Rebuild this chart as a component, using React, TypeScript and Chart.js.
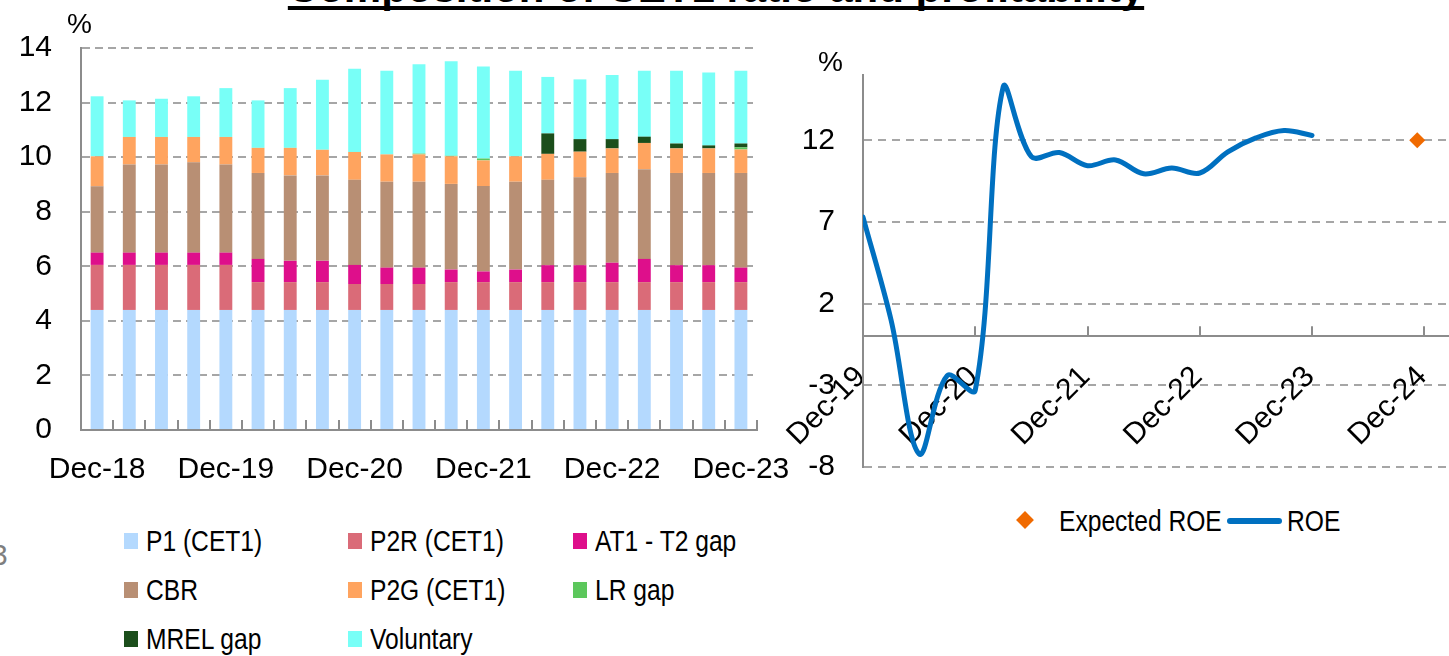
import React, { useEffect, useRef } from "react";
import { Chart, registerables } from "chart.js";

Chart.register(...registerables);

// ---------- Data: left chart (CET1 composition, %) ----------
const QUARTERS = [
  "Dec-18", "Mar-19", "Jun-19", "Sep-19", "Dec-19", "Mar-20", "Jun-20", "Sep-20", "Dec-20",
  "Mar-21", "Jun-21", "Sep-21", "Dec-21", "Mar-22", "Jun-22", "Sep-22", "Dec-22",
  "Mar-23", "Jun-23", "Sep-23", "Dec-23",
];
const P1 = [4.4, 4.4, 4.4, 4.4, 4.4, 4.4, 4.4, 4.4, 4.4, 4.4, 4.4, 4.4, 4.4, 4.4, 4.4, 4.4, 4.4, 4.4, 4.4, 4.4, 4.4];
const P2R = [1.65, 1.65, 1.65, 1.65, 1.65, 1.02, 1.02, 1.02, 0.95, 0.95, 0.95, 1.02, 1.02, 1.02, 1.02, 1.02, 1.02, 1.02, 1.02, 1.02, 1.02];
const AT1_T2 = [0.45, 0.45, 0.45, 0.45, 0.45, 0.85, 0.78, 0.78, 0.7, 0.6, 0.6, 0.46, 0.39, 0.46, 0.62, 0.62, 0.71, 0.85, 0.62, 0.62, 0.53];
const CBR = [2.43, 3.23, 3.23, 3.31, 3.23, 3.15, 3.13, 3.13, 3.12, 3.15, 3.15, 3.14, 3.13, 3.22, 3.13, 3.22, 3.29, 3.29, 3.38, 3.38, 3.47];
const P2G = [1.1, 1.01, 1.01, 0.93, 1.01, 0.92, 1.01, 0.94, 1.02, 1.0, 1.0, 1.01, 0.94, 0.93, 0.95, 0.94, 0.9, 0.96, 0.9, 0.9, 0.86];
const LR_GAP = [0, 0, 0, 0, 0, 0, 0, 0, 0, 0, 0.03, 0.02, 0.07, 0, 0, 0, 0, 0, 0, 0, 0.08];
const MREL_GAP = [0, 0, 0, 0, 0, 0, 0, 0, 0, 0, 0, 0, 0, 0, 0.75, 0.46, 0.34, 0.23, 0.18, 0.11, 0.14];
const VOLUNTARY = [2.2, 1.34, 1.4, 1.49, 1.79, 1.74, 2.19, 2.57, 3.05, 3.07, 3.27, 3.46, 3.37, 3.14, 2.07, 2.19, 2.35, 2.42, 2.67, 2.67, 2.67];
const LEFT_Y_MAX = 14;
const LEFT_Y_STEP = 2;

const SERIES_NAMES = ["P1 (CET1)", "P2R (CET1)", "AT1 - T2 gap", "CBR", "P2G (CET1)", "LR gap", "MREL gap", "Voluntary"];
const SERIES_VALUES = [P1, P2R, AT1_T2, CBR, P2G, LR_GAP, MREL_GAP, VOLUNTARY];
const SERIES_COLORS = ["#B4D9FE", "#DA6B78", "#DE0F8B", "#B88F74", "#FFA45F", "#5CC75C", "#1B4E1B", "#78FFF7"];

// ---------- Data: right chart (ROE, %) ----------
// x = quarters since Dec-19
const ROE_X = [0, 1, 2, 3, 4, 5, 6, 7, 8, 9, 10, 11, 12, 13, 14, 15, 16];
const ROE = [7.3, 1.0, -7.2, -2.4, -3.3, 15.3, 11.0, 11.25, 10.45, 10.8, 9.95, 10.3, 10.0, 11.3, 12.15, 12.6, 12.3];
const EXPECTED_ROE_X = [19.75];
const EXPECTED_ROE = [12];
const ROE_Y_TICKS = [-8, -3, 2, 7, 12];
const ROE_Y_MIN = -8;
const ROE_Y_MAX = 16;
const ROE_X_TICKS = [0, 4, 8, 12, 16, 20];
const ROE_X_LABELS = ["Dec-19", "Dec-20", "Dec-21", "Dec-22", "Dec-23", "Dec-24"];
const ROE_X_MAX = 21.7;

const ARIAL = "'Liberation Sans', Arial, Helvetica, sans-serif";
const AXIS_GRAY = "#8C8C8C";
const GRID_GRAY = "#A6A6A6";
const ROE_BLUE = "#0070C0";
const EXP_ORANGE = "#F06A00";

const leftTickPlugin = {
  id: "leftTicks",
  afterDraw(chart: any) {
    const { ctx, chartArea } = chart;
    const x = chart.scales.x;
    const n = chart.data.labels.length;
    const half = (x.getPixelForValue(1) - x.getPixelForValue(0)) / 2;
    ctx.save();
    ctx.strokeStyle = AXIS_GRAY;
    ctx.lineWidth = 2;
    for (let i = 0; i < n; i++) {
      const px = Math.round(x.getPixelForValue(i) + half);
      ctx.beginPath();
      ctx.moveTo(px, chartArea.bottom);
      ctx.lineTo(px, chartArea.bottom - 10);
      ctx.stroke();
    }
    ctx.restore();
  },
};

const rightTickPlugin = {
  id: "rightTicks",
  afterDraw(chart: any) {
    const { ctx } = chart;
    const x = chart.scales.x;
    const y = chart.scales.y;
    const y0 = y.getPixelForValue(0);
    ctx.save();
    ctx.strokeStyle = AXIS_GRAY;
    ctx.lineWidth = 2;
    for (const t of x.ticks) {
      const px = Math.round(x.getPixelForValue(t.value));
      ctx.beginPath();
      ctx.moveTo(px, y0);
      ctx.lineTo(px, y0 - 10);
      ctx.stroke();
    }
    ctx.restore();
  },
};

function LeftChart() {
  const ref = useRef<HTMLCanvasElement>(null);
  useEffect(() => {
    const datasets = SERIES_NAMES.map((name, i) => ({
      label: name,
      data: SERIES_VALUES[i],
      backgroundColor: SERIES_COLORS[i],
      borderWidth: 0,
      barPercentage: 0.4,
      categoryPercentage: 1,
    }));
    const chart = new Chart(ref.current as HTMLCanvasElement, {
      type: "bar",
      data: { labels: QUARTERS, datasets },
      options: {
        responsive: false,
        animation: false,
        layout: { padding: { top: 48, right: 43, bottom: 0, left: 0 } },
        plugins: { legend: { display: false }, tooltip: { enabled: false } },
        scales: {
          x: {
            stacked: true,
            offset: true,
            grid: { drawOnChartArea: false, drawTicks: false },
            border: { display: true, color: AXIS_GRAY, width: 2 },
            ticks: {
              autoSkip: false,
              maxRotation: 0,
              minRotation: 0,
              padding: 22,
              color: "#000",
              font: { family: ARIAL, size: 30 },
              callback: (_v: any, i: number) => (i % 4 === 0 ? QUARTERS[i] : ""),
            },
            afterFit: (s: any) => {
              s.height = 70;
              s.paddingLeft = 0;
              s.paddingRight = 0;
            },
          },
          y: {
            stacked: true,
            min: 0,
            max: LEFT_Y_MAX,
            ticks: {
              stepSize: LEFT_Y_STEP,
              padding: 29,
              color: "#000",
              font: { family: ARIAL, size: 30 },
            },
            grid: { color: GRID_GRAY, lineWidth: 2, drawTicks: false },
            border: { display: true, color: AXIS_GRAY, width: 2, dash: [8, 5] },
            afterFit: (s: any) => {
              s.width = 81;
              s.paddingTop = 0;
              s.paddingBottom = 0;
            },
          },
        },
      } as any,
      plugins: [leftTickPlugin],
    });
    return () => chart.destroy();
  }, []);
  return (
    <canvas
      ref={ref}
      width={800}
      height={500}
      style={{ position: "absolute", left: 0, top: 0, width: 800, height: 500 }}
    />
  );
}

function RightChart() {
  const ref = useRef<HTMLCanvasElement>(null);
  useEffect(() => {
    const chart = new Chart(ref.current as HTMLCanvasElement, {
      type: "line",
      data: {
        datasets: [
          {
            label: "ROE",
            data: ROE_X.map((x, i) => ({ x, y: ROE[i] })),
            borderColor: ROE_BLUE,
            borderWidth: 5,
            borderCapStyle: "round",
            borderJoinStyle: "round",
            pointRadius: 0,
            tension: 0.35,
            fill: false,
          },
          {
            label: "Expected ROE",
            data: EXPECTED_ROE_X.map((x, i) => ({ x, y: EXPECTED_ROE[i] })),
            showLine: false,
            pointStyle: "rectRot",
            pointRadius: 8,
            pointBackgroundColor: EXP_ORANGE,
            pointBorderColor: EXP_ORANGE,
            pointBorderWidth: 0,
          },
        ],
      },
      options: {
        responsive: false,
        animation: false,
        layout: { padding: { top: 75, right: 0, bottom: 33, left: 0 } },
        plugins: { legend: { display: false }, tooltip: { enabled: false } },
        scales: {
          x: {
            type: "linear",
            position: { y: 0 },
            min: 0,
            max: ROE_X_MAX,
            grid: { drawOnChartArea: false, drawTicks: false },
            border: { display: true, color: AXIS_GRAY, width: 2 },
            afterBuildTicks: (s: any) => {
              s.ticks = ROE_X_TICKS.map((v) => ({ value: v }));
            },
            ticks: {
              autoSkip: false,
              minRotation: 45,
              maxRotation: 45,
              padding: 23,
              labelOffset: -2,
              color: "#000",
              font: { family: ARIAL, size: 30 },
              callback: (_v: any, i: number) => ROE_X_LABELS[i],
            },
            afterFit: (s: any) => {
              s.height = 0;
              s.paddingLeft = 0;
              s.paddingRight = 0;
            },
          },
          y: {
            min: ROE_Y_MIN,
            max: ROE_Y_MAX,
            afterBuildTicks: (s: any) => {
              s.ticks = ROE_Y_TICKS.map((v) => ({ value: v }));
            },
            ticks: {
              padding: 28,
              color: "#000",
              font: { family: ARIAL, size: 30 },
            },
            grid: { color: GRID_GRAY, lineWidth: 2, drawTicks: false },
            border: { display: true, color: AXIS_GRAY, width: 2, dash: [8, 6] },
            afterFit: (s: any) => {
              s.width = 83;
              s.paddingTop = 0;
              s.paddingBottom = 0;
            },
          },
        },
      } as any,
      plugins: [rightTickPlugin],
    });
    return () => chart.destroy();
  }, []);
  return (
    <canvas
      ref={ref}
      width={700}
      height={500}
      style={{ position: "absolute", left: 780, top: 0, width: 700, height: 500 }}
    />
  );
}

// Condensed text: regular sans squeezed horizontally (narrow face not installed)
function NarrowText({ left, cy, text }: { left: number; cy: number; text: string }) {
  return (
    <span
      style={{
        position: "absolute",
        left,
        top: cy - 16,
        height: 32,
        lineHeight: "32px",
        fontFamily: ARIAL,
        fontSize: 30,
        color: "#000",
        whiteSpace: "nowrap",
        transform: "scaleX(0.82)",
        transformOrigin: "left center",
      }}
    >
      {text}
    </span>
  );
}

const LEG_COLS = [124, 348, 573];
const LEG_ROWS = [541, 590, 639];

function LeftLegend() {
  return (
    <>
      {SERIES_NAMES.map((name, i) => {
        const col = i % 3;
        const row = Math.floor(i / 3);
        return (
          <React.Fragment key={name}>
            <div
              style={{
                position: "absolute",
                left: LEG_COLS[col],
                top: LEG_ROWS[row] - 8,
                width: 14,
                height: 16,
                background: SERIES_COLORS[i],
              }}
            />
            <NarrowText left={LEG_COLS[col] + 22} cy={LEG_ROWS[row]} text={name} />
          </React.Fragment>
        );
      })}
    </>
  );
}

function RightLegend() {
  return (
    <>
      <div
        style={{
          position: "absolute",
          left: 1018,
          top: 513,
          width: 14,
          height: 14,
          background: EXP_ORANGE,
          transform: "rotate(45deg) scale(0.9, 0.9)",
        }}
      />
      <NarrowText left={1059} cy={521} text="Expected ROE" />
      <div
        style={{
          position: "absolute",
          left: 1227,
          top: 518,
          width: 55,
          height: 6,
          borderRadius: 3,
          background: ROE_BLUE,
        }}
      />
      <NarrowText left={1287} cy={521} text="ROE" />
    </>
  );
}

export default function App() {
  return (
    <div
      style={{
        position: "absolute",
        left: 0,
        top: 0,
        width: 1449,
        height: 656,
        overflow: "hidden",
        background: "#fff",
        fontFamily: ARIAL,
      }}
    >
      <div
        style={{
          position: "absolute",
          left: 0,
          width: 1432,
          top: -33,
          textAlign: "center",
          fontFamily: ARIAL,
          fontWeight: "bold",
          fontSize: 42,
          lineHeight: "42px",
          whiteSpace: "nowrap",
          color: "#000",
        }}
      >
        <span
          style={{
            textDecoration: "underline",
            textDecorationThickness: "4px",
            textUnderlineOffset: "4px",
            textDecorationSkipInk: "none",
          } as any}
        >
          Composition of CET1 ratio and profitability
        </span>
      </div>
      <LeftChart />
      <RightChart />
      <div style={{ position: "absolute", left: 67, top: 8, fontSize: 28, lineHeight: "32px", color: "#000" }}>%</div>
      <div style={{ position: "absolute", left: 818, top: 46, fontSize: 28, lineHeight: "32px", color: "#000" }}>%</div>
      <div style={{ position: "absolute", left: -9, top: 538, fontSize: 30, lineHeight: "34px", color: "#7F7F7F" }}>3</div>
      <LeftLegend />
      <RightLegend />
    </div>
  );
}
